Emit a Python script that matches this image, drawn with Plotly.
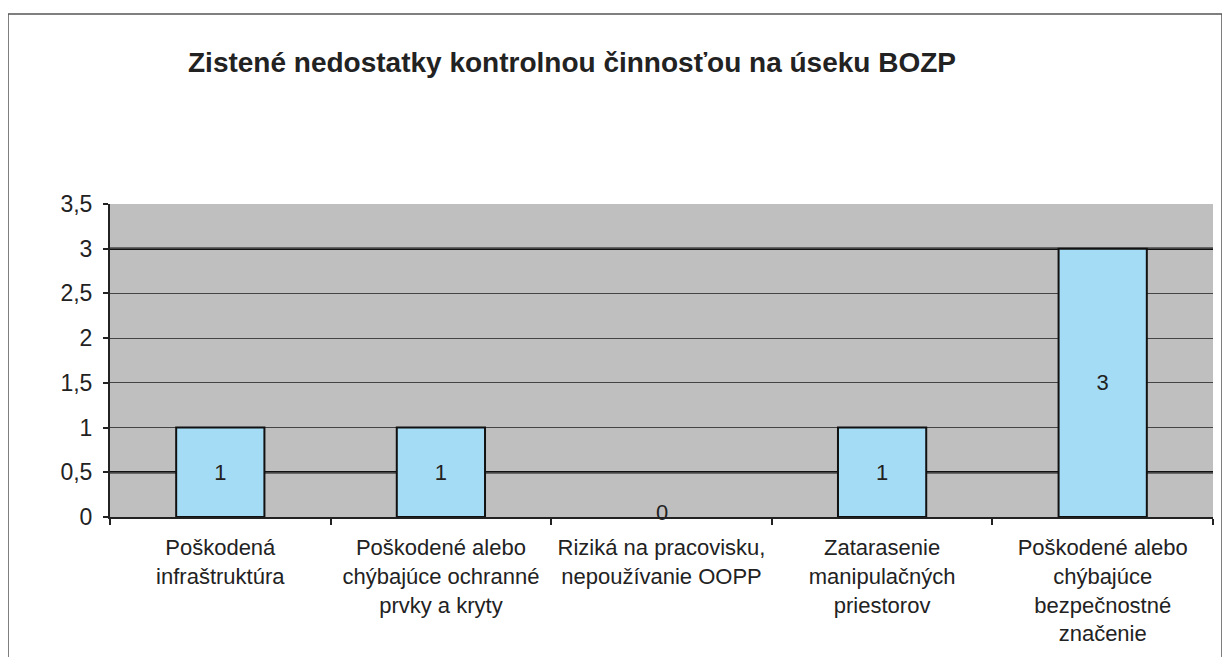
import plotly.graph_objects as go

categories = [
    "Poškodená<br>infraštruktúra",
    "Poškodené alebo<br>chýbajúce ochranné<br>prvky a kryty",
    "Riziká na pracovisku,<br>nepoužívanie OOPP",
    "Zatarasenie<br>manipulačných<br>priestorov",
    "Poškodené alebo<br>chýbajúce<br>bezpečnostné<br>značenie",
]
values = [1, 1, 0, 1, 3]
y_ticks = [0, 0.5, 1, 1.5, 2, 2.5, 3, 3.5]
y_tick_labels = ["0", "0,5", "1", "1,5", "2", "2,5", "3", "3,5"]
title = "Zistené nedostatky kontrolnou činnosťou na úseku BOZP"

FONT = "Liberation Sans, Arial, sans-serif"
# the page body adds an 8px offset; figure coords = screen coords - 8
OFF = 8

fig = go.Figure()
fig.add_trace(go.Bar(
    x=categories,
    y=values,
    marker=dict(color="#a5dcf5",
                line=dict(color="#111111", width=[2 if v > 0 else 0 for v in values])),
    text=[str(v) if v > 0 else "" for v in values],
    textposition="inside",
    insidetextanchor="middle",
    textangle=0,
    constraintext="none",
    textfont=dict(family=FONT, size=22, color="#222222"),
    cliponaxis=False,
    showlegend=False,
))

W, H = 1230, 657
l, r, t, b = 110 - OFF, W - (1213 - OFF), 204 - OFF, H - (517 - OFF)
pw, ph = W - l - r, H - t - b

# value labels for zero-height bars (sit on the axis, as in the original)
annotations = [
    dict(x=c, y=v, xref="x", yref="y", text=str(v), showarrow=False,
         yanchor="middle", yshift=5,
         font=dict(family=FONT, size=22, color="#222222"))
    for c, v in zip(categories, values) if v == 0
]

fig.update_layout(
    width=W, height=H,
    paper_bgcolor="white",
    plot_bgcolor="#bfbfbf",
    margin=dict(l=l, r=r, t=t, b=b),
    bargap=0.6,
    separators=", ",
    font=dict(family=FONT, color="#222222"),
    annotations=annotations,
    title=dict(
        text="<b>" + title + "</b>",
        x=(572 - OFF) / W, xanchor="center",
        y=1 - (62 - OFF) / H, yanchor="middle",
        font=dict(family=FONT, size=28, color="#222222"),
    ),
    xaxis=dict(
        type="category",
        showgrid=False,
        showline=True, linecolor="#222222", linewidth=2,
        ticks="outside", tickson="boundaries", ticklen=6, tickcolor="#222222", tickwidth=2,
        tickfont=dict(family=FONT, size=22, color="#222222"),
        ticklabelstandoff=10,
        fixedrange=True,
    ),
    yaxis=dict(
        range=[0, 3.5],
        tickvals=y_ticks, ticktext=y_tick_labels,
        showgrid=True, gridcolor="#444444", gridwidth=1,
        showline=True, linecolor="#222222", linewidth=2,
        ticks="outside", ticklen=5, tickcolor="#222222", tickwidth=2,
        tickfont=dict(family=FONT, size=23, color="#222222"),
        ticklabelstandoff=6,
        zeroline=False,
        fixedrange=True,
    ),
    shapes=[
        dict(type="rect", xref="paper", yref="paper",
             x0=(8 - 110) / pw, x1=(1222 - 110) / pw,
             y0=-0.6, y1=1 + (204 - 14) / ph,
             line=dict(color="#555555", width=1.5), fillcolor="rgba(0,0,0,0)",
             layer="below"),
    ],
)

# emphasised gridlines (darker lines at 0.5 and 3 in the original scan)
for gv in [0.5, 3]:
    fig.add_hline(y=gv, line=dict(color="#111111", width=2.5), layer="below")

fig.write_html("out.html")
